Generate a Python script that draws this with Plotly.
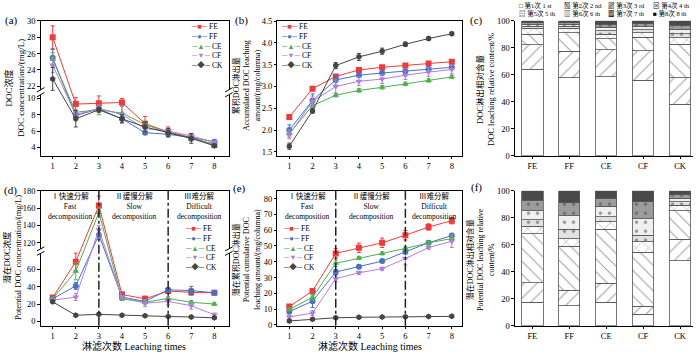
import plotly.graph_objects as go

# ---------------- data ----------------
x_times = [1, 2, 3, 4, 5, 6, 7, 8]
series = ["FE", "FF", "CE", "CF", "CK"]
samples = ["FE", "FF", "CE", "CF", "CK"]
stage_bounds = [3, 6]

# (a) DOC concentration (mg/L)
a_FE = [28.0, 9.3, 9.4, 9.5, 6.9, 5.9, 5.2, 4.3]
a_FF = [25.5, 7.9, 8.7, 7.5, 5.8, 5.6, 5.2, 4.7]
a_CE = [25.3, 8.3, 8.6, 8.2, 6.8, 5.8, 5.1, 4.4]
a_CF = [24.6, 8.0, 8.8, 8.0, 6.3, 6.0, 5.4, 4.6]
a_CK = [22.9, 7.5, 8.6, 7.5, 6.5, 5.8, 5.1, 4.2]
a_FE_err = [1.4, 0.8, 0.9, 0.5, 0.9, 0.6, 0.4, 0.2]
a_FF_err = [1.0, 0.3, 0.3, 0.4, 0.2, 0.3, 0.3, 0.2]
a_CE_err = [0.8, 0.3, 0.6, 0.9, 0.4, 0.3, 0.3, 0.2]
a_CF_err = [0.9, 0.4, 0.4, 1.0, 0.4, 0.4, 0.3, 0.2]
a_CK_err = [1.4, 1.0, 0.3, 0.5, 0.6, 0.5, 0.6, 0.2]

# (b) accumulated DOC leaching amount (mg/columna)
b_FE = [2.30, 2.95, 3.23, 3.38, 3.44, 3.48, 3.53, 3.57]
b_FF = [2.00, 2.68, 3.15, 3.26, 3.31, 3.35, 3.40, 3.44]
b_CE = [1.92, 2.56, 2.80, 2.91, 2.98, 3.06, 3.14, 3.22]
b_CF = [1.90, 2.66, 3.00, 3.12, 3.17, 3.26, 3.33, 3.39]
b_CK = [1.63, 2.44, 3.48, 3.68, 3.81, 3.97, 4.10, 4.21]
b_FE_err = [0.02, 0.02, 0.03, 0.03, 0.03, 0.03, 0.03, 0.03]
b_FF_err = [0.12, 0.15, 0.12, 0.05, 0.05, 0.04, 0.04, 0.04]
b_CE_err = [0.08, 0.05, 0.04, 0.04, 0.04, 0.04, 0.04, 0.04]
b_CF_err = [0.10, 0.12, 0.15, 0.10, 0.10, 0.10, 0.10, 0.10]
b_CK_err = [0.07, 0.05, 0.07, 0.08, 0.07, 0.05, 0.04, 0.04]

# (c) DOC leaching relative content (%) per leaching stage
c_s1 = [64.0, 58.0, 58.5, 56.0, 38.3]
c_s2 = [18.5, 19.5, 20.3, 21.8, 19.7]
c_s3 = [7.5, 13.9, 8.1, 10.3, 24.7]
c_s4 = [4.6, 3.2, 3.2, 3.3, 4.7]
c_s5 = [1.5, 1.5, 2.6, 2.2, 3.3]
c_s6 = [1.3, 1.3, 2.5, 2.1, 3.2]
c_s7 = [1.3, 1.3, 2.4, 2.1, 3.0]
c_s8 = [1.3, 1.3, 2.4, 2.2, 3.1]

# (d) potential DOC concentration (mg/L)
d_FE = [27.5, 69.0, 163.0, 31.0, 26.0, 35.0, 33.5, 33.0]
d_FF = [26.0, 41.0, 129.0, 28.0, 23.0, 36.5, 35.5, 33.0]
d_CE = [26.0, 58.0, 155.0, 26.0, 22.0, 26.5, 22.0, 20.0]
d_CF = [24.5, 28.0, 135.0, 28.0, 21.0, 23.0, 18.0, 7.5]
d_CK = [22.5, 7.0, 8.0, 7.0, 6.5, 5.5, 5.0, 4.0]
d_FE_err = [2, 10, 11, 3, 3, 3, 3, 2]
d_FF_err = [2, 4, 5, 2, 2, 2, 5, 2]
d_CE_err = [2, 10, 5, 2, 2, 2, 2, 1.5]
d_CF_err = [2, 4, 5, 2, 4, 4, 4, 2]
d_CK_err = [1, 1, 1, 1, 1, 1, 1, 1]

# (e) potential cumulative DOC leaching amount (mg/columna)
e_FE = [11.6, 21.5, 45.3, 48.8, 52.0, 56.8, 62.0, 66.0]
e_FF = [8.5, 15.0, 33.5, 36.8, 40.4, 46.3, 52.0, 56.6]
e_CE = [9.8, 17.5, 39.0, 42.3, 45.3, 48.4, 52.0, 54.7]
e_CF = [5.0, 7.5, 29.3, 33.0, 35.6, 42.0, 49.0, 53.0]
e_CK = [2.5, 3.5, 4.5, 4.8, 5.0, 5.2, 5.3, 5.4]
e_FE_err = [1, 1.5, 3, 3, 3, 3, 2, 2]
e_FF_err = [1.5, 4, 1.5, 1, 1, 1.5, 1, 1]
e_CE_err = [1, 2, 2, 1, 1, 1, 1, 1]
e_CF_err = [1, 1.5, 2, 1, 1, 4, 1, 4]
e_CK_err = [0.5, 0.5, 0.5, 0.5, 0.5, 0.5, 0.5, 0.5]

# (f) potential DOC leaching relative content (%)
f_s1 = [17.3, 14.8, 17.3, 8.6, 48.1]
f_s2 = [14.7, 11.6, 14.1, 6.0, 16.1]
f_s3 = [36.4, 32.4, 40.0, 40.0, 21.0]
f_s4 = [5.4, 5.9, 5.6, 7.6, 4.2]
f_s5 = [5.0, 6.7, 3.7, 5.0, 2.5]
f_s6 = [6.4, 10.1, 7.9, 12.1, 2.7]
f_s7 = [7.9, 9.6, 6.0, 12.6, 2.7]
f_s8 = [6.9, 8.9, 5.4, 8.1, 2.7]

stage_labels = ["第1次 1 st", "第2次 2 nd", "第3次 3 rd", "第4次 4 th",
                "第5次 5 th", "第6次 6 th", "第7次 7 th", "第8次 8 th"]
a_ticks_low = [4, 6, 8, 10]
a_ticks_high = [22, 24, 26, 28, 30]
d_ticks_low = [0, 20, 40, 60]
d_ticks_high = [120, 140, 160, 180]

# ---------------- style ----------------
FONT = "Liberation Serif, Noto Sans CJK SC, DejaVu Sans"
colors = {"FE": "#EE3A3A", "FF": "#4672C4", "CE": "#4FAE4F", "CF": "#B07ED6", "CK": "#454545"}
symbols = {"FE": "square", "FF": "circle", "CE": "triangle-up", "CF": "triangle-down", "CK": "hexagon"}
glyphs = {"FE": "■", "FF": "●", "CE": "▲", "CF": "▼", "CK": "◆"}

# broken-axis settings (upper segment drawn shifted down by offset)
A_LIM, A_OFF = 15.0, 10.51
D_LIM, D_OFF = 100.0, 28.9


def shift(vals, lim, off):
    return [v - off if v > lim else v for v in vals]


fig = go.Figure()


def add_series(data, errs, xa, ya, lim=None, off=None):
    for s in series:
        y = data[s]
        yt = shift(y, lim, off) if lim is not None else y
        fig.add_trace(go.Scatter(
            x=x_times, y=yt, customdata=y, name=s, mode="lines+markers",
            xaxis=xa, yaxis=ya, showlegend=False,
            hovertemplate=s + " %{x}: %{customdata}<extra></extra>",
            line=dict(color=colors[s], width=1),
            marker=dict(symbol=symbols[s], size=6, color=colors[s]),
            error_y=dict(type="data", array=errs[s], color=colors[s], thickness=1, width=2),
        ))


add_series({"FE": a_FE, "FF": a_FF, "CE": a_CE, "CF": a_CF, "CK": a_CK},
           {"FE": a_FE_err, "FF": a_FF_err, "CE": a_CE_err, "CF": a_CF_err, "CK": a_CK_err},
           "x", "y", A_LIM, A_OFF)
add_series({"FE": b_FE, "FF": b_FF, "CE": b_CE, "CF": b_CF, "CK": b_CK},
           {"FE": b_FE_err, "FF": b_FF_err, "CE": b_CE_err, "CF": b_CF_err, "CK": b_CK_err},
           "x2", "y2")
add_series({"FE": d_FE, "FF": d_FF, "CE": d_CE, "CF": d_CF, "CK": d_CK},
           {"FE": d_FE_err, "FF": d_FF_err, "CE": d_CE_err, "CF": d_CF_err, "CK": d_CK_err},
           "x4", "y4", D_LIM, D_OFF)
add_series({"FE": e_FE, "FF": e_FF, "CE": e_CE, "CF": e_CF, "CK": e_CK},
           {"FE": e_FE_err, "FF": e_FF_err, "CE": e_CE_err, "CF": e_CF_err, "CK": e_CK_err},
           "x5", "y5")

# stacked bars
bar_styles = [
    ("", "#ffffff"), ("/", "#ffffff"), ("\\", "#ffffff"), ("x", "#ffffff"),
    (".", "#e2e2e2"), (".", "#f0f0f0"), (".", "#9c9c9c"), ("", "#4a4a4a"),
]
c_stages = [c_s1, c_s2, c_s3, c_s4, c_s5, c_s6, c_s7, c_s8]
f_stages = [f_s1, f_s2, f_s3, f_s4, f_s5, f_s6, f_s7, f_s8]
for stages, xa, ya in [(c_stages, "x3", "y3"), (f_stages, "x6", "y6")]:
    for i, vals in enumerate(stages):
        shp, bg = bar_styles[i]
        fig.add_trace(go.Bar(
            x=samples, y=vals, name=stage_labels[i], xaxis=xa, yaxis=ya, width=0.58,
            showlegend=False,
            marker=dict(color=bg, line=dict(color="#555555", width=0.8),
                        pattern=dict(shape=shp, fgcolor="#444444", bgcolor=bg, size=9, solidity=0.12)),
        ))

# ---------------- axes ----------------
base = dict(showline=True, linecolor="black", linewidth=1, ticks="outside", ticklen=2.5,
            tickwidth=1, tickcolor="black", showgrid=False, zeroline=False, automargin=False,
            tickfont=dict(size=8.5, family=FONT))
XL = [0.0581, 0.327]
XM = [0.3964, 0.66]
XR = [0.7357, 0.99]
YT = [0.560, 0.9415]
YB = [0.080, 0.4613]
XL_RANGE = [0.48, 8.63]
XM_RANGE = [0.49, 8.44]

fig.update_layout(
    width=700, height=354, margin=dict(l=0, r=0, t=0, b=0, pad=0, autoexpand=False),
    paper_bgcolor="white", plot_bgcolor="white", showlegend=False, barmode="stack",
    font=dict(family=FONT, size=9, color="black"),
    xaxis=dict(base, domain=XL, anchor="y", range=XL_RANGE, tickvals=x_times, mirror=True),
    yaxis=dict(base, domain=YT, anchor="x", range=[2.97, 19.52], mirror=True,
               tickvals=a_ticks_low + shift(a_ticks_high, A_LIM, A_OFF),
               ticktext=[str(t) for t in a_ticks_low + a_ticks_high]),
    xaxis2=dict(base, domain=XM, anchor="y2", range=XM_RANGE, tickvals=x_times, mirror=True),
    yaxis2=dict(base, domain=YT, anchor="x2", range=[1.41, 4.51], dtick=0.5, tickformat=".1f", mirror=True),
    xaxis3=dict(base, domain=XR, anchor="y3", type="category", range=[-0.47, 4.35]),
    yaxis3=dict(base, domain=YT, anchor="x3", range=[0, 100.2], dtick=20),
    xaxis4=dict(base, domain=XL, anchor="y4", range=XL_RANGE, tickvals=x_times, mirror=True),
    yaxis4=dict(base, domain=YB, anchor="x4", range=[-5.1, 151.3], mirror=True,
                tickvals=d_ticks_low + shift(d_ticks_high, D_LIM, D_OFF),
                ticktext=[str(t) for t in d_ticks_low + d_ticks_high]),
    xaxis5=dict(base, domain=XM, anchor="y5", range=XM_RANGE, tickvals=x_times, mirror=True),
    yaxis5=dict(base, domain=YB, anchor="x5", range=[-0.5, 85], dtick=10, mirror=True),
    xaxis6=dict(base, domain=XR, anchor="y6", type="category", range=[-0.47, 4.35]),
    yaxis6=dict(base, domain=YB, anchor="x6", range=[0, 100.2], dtick=20),
)

# ---------------- shapes ----------------
shapes = []
# axis break marks
for xr, yr, brk, h in [("x domain", "y", 10.75, 0.3), ("x4 domain", "y4", 81.3, 2.6)]:
    for xd in (0, 1):
        shapes.append(dict(type="rect", xref=xr, yref=yr, x0=xd - 0.02, x1=xd + 0.02,
                           y0=brk - h, y1=brk + h, fillcolor="white", line=dict(width=0), layer="above"))
        for sgn in (-1, 1):
            yc = brk + sgn * h
            shapes.append(dict(type="line", xref=xr, yref=yr, x0=xd - 0.02, x1=xd + 0.02,
                               y0=yc - h * 0.9, y1=yc + h * 0.9, line=dict(color="black", width=1),
                               layer="above"))
# stage boundary lines
for xa in ("x4", "x5"):
    for b in stage_bounds:
        shapes.append(dict(type="line", xref=xa, yref=xa.replace("x", "y") + " domain", x0=b, x1=b,
                           y0=0, y1=1, line=dict(color="#222222", width=1.5, dash="dashdot")))
fig.update_layout(shapes=shapes)

# ---------------- annotations ----------------
ann = []


def py(p):
    return 1 - p / 354.0


def text(x, y, t, size=9, xref="paper", yref="paper", xanchor="center", angle=0, align="center"):
    ann.append(dict(x=x, y=y, xref=xref, yref=yref, text=t, showarrow=False, xanchor=xanchor,
                    yanchor="middle", textangle=angle, align=align,
                    font=dict(size=size, family=FONT, color="black")))


# panel labels
for lab, xp, yp in [("(a)", 11, 20), ("(b)", 241, 20), ("(c)", 476, 20),
                    ("(d)", 10, 190), ("(e)", 239, 188), ("(f)", 476, 187)]:
    text(xp / 700, py(yp), lab, size=11)

# y-axis titles
text(14 / 700, py(88), "DOC浓度<br>DOC concentration/(mg/L)", size=9, angle=-90)
text(246 / 700, py(86), "累积DOC淋出量<br>Accumulated DOC leaching<br>amount/(mg/columna)", size=8, angle=-90)
text(485 / 700, py(90), "DOC淋出相对含量<br>DOC leaching relative content/%", size=8.5, angle=-90)
text(12 / 700, py(258), "潜在DOC浓度<br>Potential DOC concentration/(mg/L)", size=8.5, angle=-90)
text(246 / 700, py(260), "潜在累积DOC淋出量<br>Potential cumulative DOC<br>leaching amount/(mg/columna)", size=8, angle=-90)
text(480 / 700, py(260), "潜在DOC淋出相对含量<br>Potential DOC leaching relative<br>content/%", size=8, angle=-90)

# x-axis titles
text(134 / 700, py(346), "淋滤次数 Leaching times", size=10)
text(370 / 700, py(346), "淋滤次数 Leaching times", size=10)

# stage descriptions in (d) and (e)
stage_text = ["Ⅰ快速分解<br>Fast<br>decomposition",
              "Ⅱ缓慢分解<br>Slow<br>decomposition",
              "Ⅲ难分解<br>Difficult<br>decomposition"]
for xa, rng in [("x4", XL_RANGE), ("x5", XM_RANGE)]:
    edges = [rng[0]] + stage_bounds + [rng[1]]
    for k, t in enumerate(stage_text):
        xc = (edges[k] + edges[k + 1]) / 2
        text(xc, py(205.5), t, size=7.5, xref=xa)

# series legends (compact, one block each)
LEG_SIZE = 7.5
leg_lines = "<br>".join("<span style='color:%s'>─%s─</span> %s" % (colors[s], glyphs[s], s) for s in series)
for x0, yc in [(189, 46), (279, 46), (183, 247.5), (281, 247.5)]:
    text(x0 / 700, py(yc), leg_lines, size=LEG_SIZE, xanchor="left", align="left")

# stacked-bar legend (4 columns x 2 rows)
legend_glyphs = ["□", "▧", "▨", "⊠", "▤", "▥", "▩", "■"]
for col in range(4):
    t = legend_glyphs[col] + " " + stage_labels[col] + "<br>" + legend_glyphs[col + 4] + " " + stage_labels[col + 4]
    text((517 + 44.5 * col) / 700, py(9.8), t, size=6.5, xanchor="left", align="left")

fig.update_layout(annotations=ann)
# remove the browser's default 8px page margin so the figure fills the window exactly
fig.write_html("out.html", config={"displayModeBar": False},
               post_script="document.body.style.margin='0px';")
